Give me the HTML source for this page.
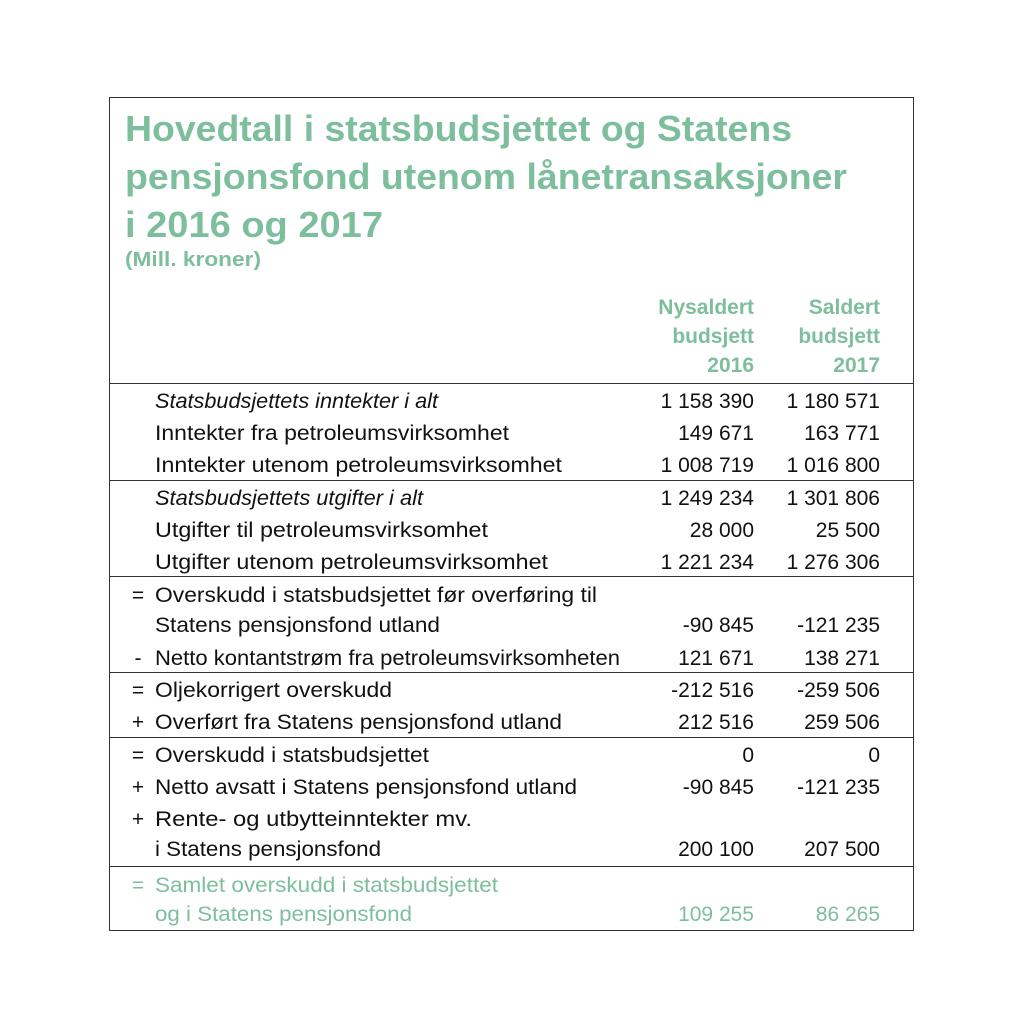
<!DOCTYPE html>
<html><head><meta charset="utf-8"><style>
html,body{margin:0;padding:0;background:#fff;}
svg{display:block;font-family:"Liberation Sans",sans-serif;}
.g{fill:#7dbf9c;}
.t{fill:#111;font-size:21px;}
</style></head><body>
<svg width="1024" height="1024" viewBox="0 0 1024 1024">
<rect x="109.5" y="97.5" width="804" height="833" fill="none" stroke="#333" stroke-width="1"/>
<g class="g" font-weight="bold">
<text x="125" y="141" font-size="36" textLength="667" lengthAdjust="spacingAndGlyphs">Hovedtall i statsbudsjettet og Statens</text>
<text x="125" y="189" font-size="36" textLength="722" lengthAdjust="spacingAndGlyphs">pensjonsfond utenom lånetransaksjoner</text>
<text x="125" y="237" font-size="36" textLength="258" lengthAdjust="spacingAndGlyphs">i 2016 og 2017</text>
<text x="125" y="266" font-size="20" textLength="136" lengthAdjust="spacingAndGlyphs">(Mill. kroner)</text>
</g>
<g class="g" font-weight="bold" font-size="21" text-anchor="end">
<text x="754" y="314">Nysaldert</text><text x="754" y="343">budsjett</text><text x="754" y="372">2016</text>
<text x="880" y="314">Saldert</text><text x="880" y="343">budsjett</text><text x="880" y="372">2017</text>
</g>
<g stroke="#333" stroke-width="1">
<line x1="109" x2="913" y1="383.5" y2="383.5"/><line x1="109" x2="913" y1="480.5" y2="480.5"/>
<line x1="109" x2="913" y1="576.5" y2="576.5"/><line x1="109" x2="913" y1="672.5" y2="672.5"/>
<line x1="109" x2="913" y1="737.5" y2="737.5"/><line x1="109" x2="913" y1="866.5" y2="866.5"/>
</g>
<g id="rows"></g>
</svg>
<script>
const rows=[
[408,"",{t:"Statsbudsjettets inntekter i alt",i:1},283,"1 158 390","1 180 571"],
[440,"","Inntekter fra petroleumsvirksomhet",354,"149 671","163 771"],
[472,"","Inntekter utenom petroleumsvirksomhet",407,"1 008 719","1 016 800"],
[505,"",{t:"Statsbudsjettets utgifter i alt",i:1},268,"1 249 234","1 301 806"],
[537,"","Utgifter til petroleumsvirksomhet",333,"28 000","25 500"],
[569,"","Utgifter utenom petroleumsvirksomhet",393,"1 221 234","1 276 306"],
[602,"=","Overskudd i statsbudsjettet før overføring til",442,"",""],
[632,"","Statens pensjonsfond utland",285,"-90 845","-121 235"],
[665,"-","Netto kontantstrøm fra petroleumsvirksomheten",465,"121 671","138 271"],
[697,"=","Oljekorrigert overskudd",237,"-212 516","-259 506"],
[729,"+","Overført fra Statens pensjonsfond utland",407,"212 516","259 506"],
[762,"=","Overskudd i statsbudsjettet",274,"0","0"],
[794,"+","Netto avsatt i Statens pensjonsfond utland",422,"-90 845","-121 235"],
[826,"+","Rente- og utbytteinntekter mv.",317,"",""],
[856,"","i Statens pensjonsfond",226,"200 100","207 500"],
[892,"=",{t:"Samlet overskudd i statsbudsjettet",g:1},343,"",""],
[921,"",{t:"og i Statens pensjonsfond",g:1},257,"109 255","86 265"]
];
const NS="http://www.w3.org/2000/svg";
const G=document.getElementById('rows');
function mk(x,y,s,anchor,cls,len,italic){
 const e=document.createElementNS(NS,'text');
 e.setAttribute('x',x);e.setAttribute('y',y);
 e.setAttribute('font-size','21');
 if(anchor)e.setAttribute('text-anchor',anchor);
 if(len){e.setAttribute('textLength',len);e.setAttribute('lengthAdjust','spacingAndGlyphs');}
 if(italic)e.setAttribute('font-style','italic');
 e.setAttribute('fill',cls?'#7dbf9c':'#111');
 e.textContent=s;G.appendChild(e);return e;
}
rows.forEach(r=>{
 const lab=typeof r[2]==='string'?{t:r[2]}:r[2];
 const green=!!lab.g||r[0]>880;
 if(r[1]){const o=mk(138,r[0],r[1],'middle',green);
 
 }
 const l=mk(155,r[0],lab.t,null,green,r[3],lab.i);
 
 
 if(r[4]){const a=mk(754,r[0],r[4],'end',green);
 
 }
 if(r[5]){const b=mk(880,r[0],r[5],'end',green);
 
 }
});
</script>
</body></html>
